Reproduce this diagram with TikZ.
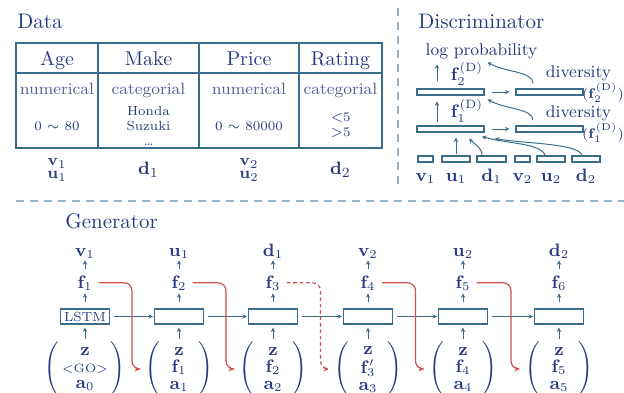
\documentclass[tikz,border=0pt]{standalone}
\usepackage{amsmath,amssymb}
\usetikzlibrary{arrows.meta, positioning, calc}
\definecolor{txtblue}{RGB}{40,58,130}
\definecolor{kindblue}{RGB}{85,95,150}
\definecolor{lineblue}{RGB}{58,108,140}
\definecolor{redline}{RGB}{205,80,80}
\definecolor{dashblue}{RGB}{150,178,198}
\newcommand{\bv}[1]{\mathbf{#1}}
\newcommand{\colvec}[4][5pt]{{\def\arraystretch{0.74}\left(\begin{array}{@{\hspace{#1}}c@{\hspace{#1}}}#2\\#3\\#4\end{array}\right)}}

\begin{document}
\begin{tikzpicture}[
    x=0.5pt, y=-0.5pt,
    title/.style={text=txtblue, font=\fontsize{10.5}{12}\selectfont, anchor=base west, inner sep=0pt},
    head/.style={text=txtblue, font=\fontsize{10}{12}\selectfont, anchor=base, inner sep=0pt},
    kind/.style={text=kindblue, font=\fontsize{8.2}{10}\selectfont, anchor=base, inner sep=0pt},
    vals/.style={text=txtblue, font=\fontsize{6.6}{7.5}\selectfont, align=center, inner sep=0pt},
    var/.style={text=txtblue, font=\fontsize{9}{11}\selectfont, inner sep=0pt},
    small/.style={text=txtblue, font=\fontsize{8.5}{10}\selectfont, inner sep=0pt},
    tabline/.style={draw=lineblue, line width=0.7pt},
    sep/.style={dashblue, line width=0.8pt, dash pattern=on 4pt off 3pt},
    gbox/.style={draw=lineblue, line width=0.6pt, minimum width=24.5pt, minimum height=7.5pt, inner sep=0pt, text=txtblue, font=\fontsize{6.6}{7}\selectfont},
    dbox/.style={draw=lineblue, line width=0.6pt, minimum height=3pt, inner sep=0pt},
    arrow/.style={-{Stealth[length=2.2pt, width=2.2pt]}, lineblue, line width=0.5pt},
    redarrow/.style={-{Stealth[length=2.6pt, width=2.6pt]}, redline, line width=0.6pt, rounded corners=4pt}
]
\useasboundingbox (0,0) rectangle (624,392);

% Separators
\draw[sep] (398,8) -- (398,190);
\draw[sep] (16,201) -- (624,201);

% Data table
\node[title] (datatitle) at (17,28) {Data};
\draw[tabline] (16,43) rectangle (382,148);
\draw[tabline] (16,73) -- (382,73);
\foreach \x in {98,199,299}
    \draw[tabline] (\x,43) -- (\x,148);

\node[head] (hage) at (57,65) {Age};
\node[head] (hmake) at (148.5,65) {Make};
\node[head] (hprice) at (249,65) {Price};
\node[head] (hrating) at (340.5,65) {Rating};

\node[kind] (kage) at (57,94) {numerical};
\node[kind] (kmake) at (148.5,94) {categorial};
\node[kind] (kprice) at (249,94) {numerical};
\node[kind] (krating) at (340.5,94) {categorial};

\node[vals] (vage) at (57,126) {0 $\sim$ 80};
\node[vals] (vmake) at (148.5,126) {Honda\\Suzuki\\\dots};
\node[vals] (vprice) at (249,126) {0 $\sim$ 80000};
\node[vals] (vrating) at (340.5,125.5) {$<$5\\$>$5};

\node[var, align=center, font=\fontsize{8.5}{6.5}\selectfont] (lage) at (57,170) {$\bv{v}_1$\\$\bv{u}_1$};
\node[var, font=\fontsize{9.5}{11}\selectfont] (lmake) at (148.5,170) {$\bv{d}_1$};
\node[var, align=center, font=\fontsize{8.5}{6.5}\selectfont] (lprice) at (249,170) {$\bv{v}_2$\\$\bv{u}_2$};
\node[var, font=\fontsize{9.5}{11}\selectfont] (lrating) at (340.5,170) {$\bv{d}_2$};

% Discriminator
\node[title] (disctitle) at (418,28) {Discriminator};
\node[small, anchor=base] (logp) at (481.5,55) {log probability};

\node[dbox, minimum width=33.5pt] (dl1) at (450.5,129) {};
\node[dbox, minimum width=33.5pt] (dr1) at (549.5,129) {};
\node[dbox, minimum width=33.5pt] (dl2) at (450.5,92) {};
\node[dbox, minimum width=33.5pt] (dr2) at (549.5,92) {};

\node[var] (fd1) at (467,111) {$\bv{f}_1^{(\mathrm{D})}$};
\node[var] (fd2) at (467,74) {$\bv{f}_2^{(\mathrm{D})}$};
\node[small, anchor=base] (div1) at (578.5,117) {diversity};
\node[small, anchor=base] (div2) at (578.5,77) {diversity};
\node[var, font=\fontsize{7.5}{9}\selectfont] (fr1) at (603,133) {$(\bv{f}_1^{(\mathrm{D})})$};
\node[var, font=\fontsize{7.5}{9}\selectfont] (fr2) at (603,93) {$(\bv{f}_2^{(\mathrm{D})})$};

\foreach \n/\x/\w/\l in {iv1/425.5/7.5/\bv{v}_1, iu1/456/14/\bv{u}_1, id1/491.5/14.5/\bv{d}_1,
                         iv2/522.5/7.5/\bv{v}_2, iu2/551/14/\bv{u}_2, id2/586/14/\bv{d}_2} {
    \node[dbox, minimum width=\w pt] (\n) at (\x,159) {};
    \node[var, anchor=base] (\n-lab) at (\x,181) {$\l$};
}

\draw[arrow, shorten <=3.5pt, shorten >=3pt] (dl1) -- (dr1);
\draw[arrow, shorten <=3.5pt, shorten >=3pt] (dl2) -- (dr2);
\draw[arrow] ([xshift=-6.75pt, yshift=1.5pt]dl1.north) -- ([xshift=-6.75pt, yshift=12pt]dl1.north);
\draw[arrow] ([xshift=-6.75pt, yshift=3.5pt]dl2.north) -- ([xshift=-6.75pt, yshift=12pt]dl2.north);
\draw[arrow] ([xshift=-8.25pt, yshift=2.5pt]dr1.north) .. controls +(0,-12) and +(18,10) .. ([xshift=1.5pt, yshift=13pt]dl1.north east);
\draw[arrow] ([xshift=-8.25pt, yshift=2.5pt]dr2.north) .. controls +(0,-12) and +(18,10) .. ([xshift=1.5pt, yshift=13pt]dl2.north east);

\draw[arrow, shorten <=0.5pt, shorten >=2.5pt] (iu1) -- (iu1 |- dl1.south);
\draw[arrow] ([xshift=-4.75pt]id1.north) .. controls +(0,-8) and +(6,6) .. ([xshift=9.25pt, yshift=-3pt]dl1.south);
\draw[arrow] ([xshift=-3pt]iu2.north) .. controls +(-3,-12) and +(25,7) .. ([xshift=15.75pt, yshift=-2pt]dl1.south);
\draw[arrow] ([xshift=-2pt]id2.north) .. controls +(-3,-12) and +(30,5) .. ([xshift=22.25pt, yshift=-3pt]dl1.south);

% Generator
\node[title] (gentitle) at (65,228) {Generator};

\foreach \i/\x/\o/\m/\b/\g in {1/85/\bv{v}_1/{\scriptstyle<\mathrm{GO}>}/\bv{a}_0/1.5pt,
                               2/179/\bv{u}_1/\bv{f}_1/\bv{a}_1/5pt,
                               3/273/\bv{d}_1/\bv{f}_2/\bv{a}_2/5pt,
                               4/368/\bv{v}_2/\bv{f}'_3/\bv{a}_3/5pt,
                               5/463/\bv{u}_2/\bv{f}_4/\bv{a}_4/5pt,
                               6/559/\bv{d}_2/\bv{f}_5/\bv{a}_5/5pt} {
    \node[gbox] (g\i) at (\x,316.5) {};
    \node[var, anchor=base] (f\i) at (\x,288) {$\bv{f}_\i$};
    \node[var, anchor=base] (o\i) at (\x,256) {$\o$};
    \node[var] (in\i) at (\x,369) {$\colvec[\g]{\bv{z}}{\m}{\b}$};
    \draw[arrow, shorten <=3pt, shorten >=1.5pt] (g\i) -- (f\i);
    \draw[arrow, shorten <=3pt, shorten >=1pt] (f\i) -- (o\i);
    \draw[arrow, shorten <=1.5pt, shorten >=1.5pt] (in\i) -- (g\i);
}
\node[gbox] at (g1) {LSTM};

% Recurrent arrows
\foreach \i/\j in {1/2,2/3,3/4,4/5,5/6}
    \draw[arrow, shorten <=2pt, shorten >=0.5pt] (g\i) -- (g\j);

% Feedback arrows
\foreach \i/\j in {1/2,2/3,4/5,5/6} {
    \coordinate (m\i) at ($(g\i.east)!0.5!(g\j.west)$);
    \draw[redarrow, shorten <=3pt, shorten >=2.5pt] (f\i.east) -| (m\i |- in\j.west) -- (in\j.west);
}
\coordinate (m3) at ($(g3.east)!0.5!(g4.west)$);
\draw[redarrow, dash pattern=on 1.8pt off 1.4pt, shorten <=3pt, shorten >=2.5pt] (f3.east) -| (m3 |- in4.west) -- (in4.west);

\end{tikzpicture}
\end{document}
